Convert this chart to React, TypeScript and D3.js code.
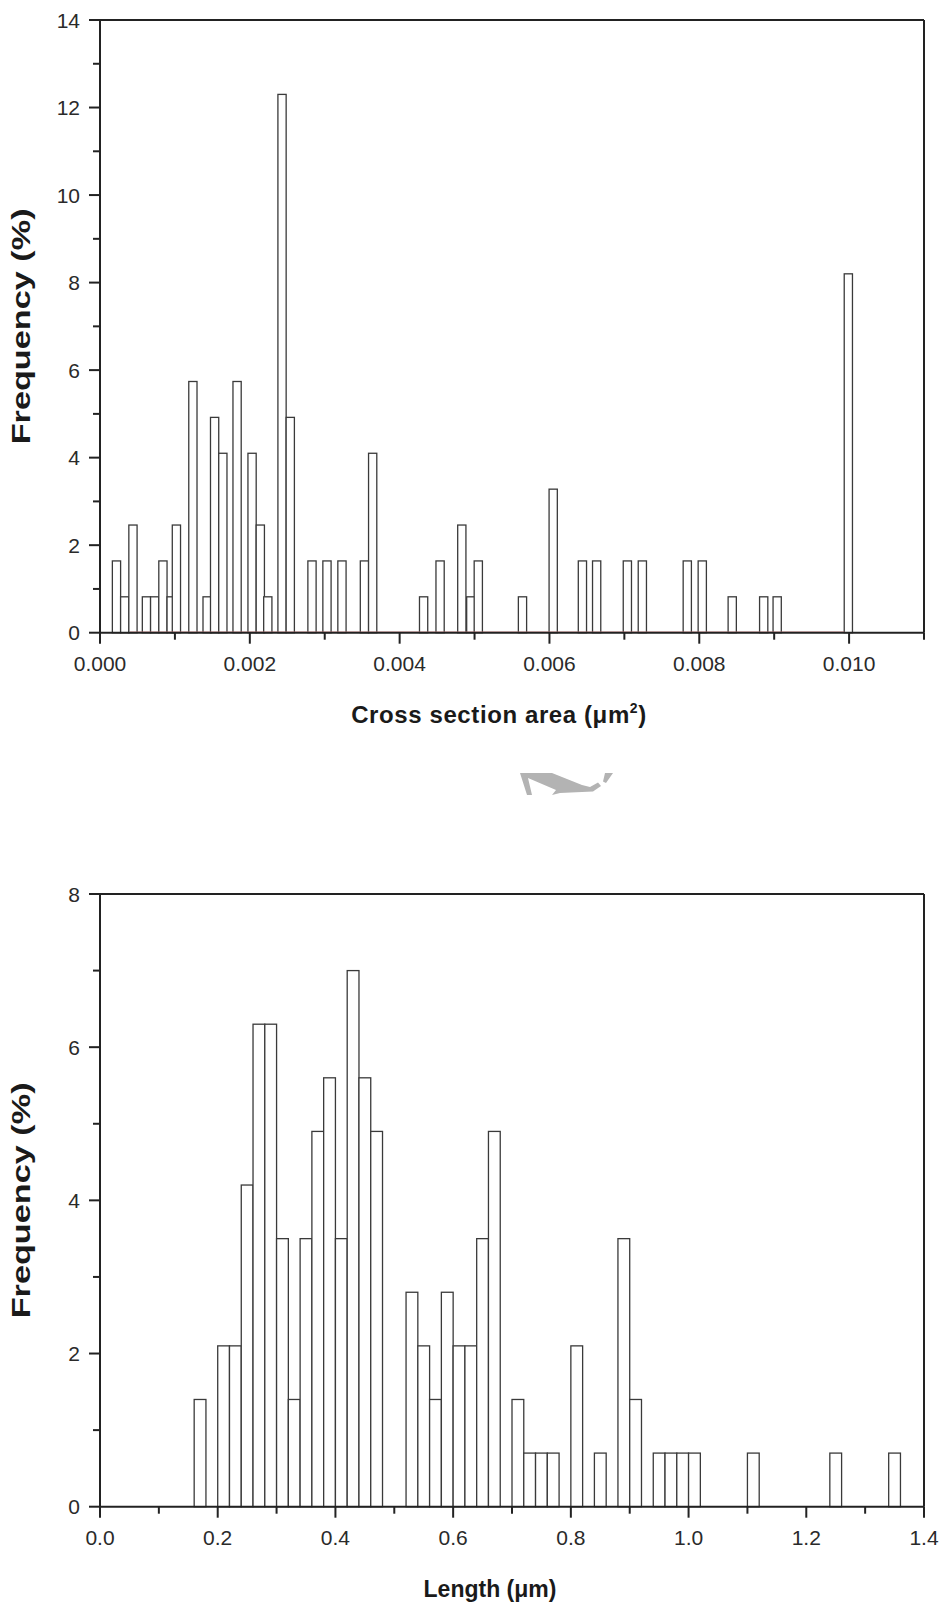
import React from "react";
import * as d3 from "d3";

// top histogram: cross section area (µm²) bar centres and frequency (%)
const areaCenters = [
  0.00022, 0.00033, 0.00044, 0.00062, 0.00073, 0.00084, 0.00095, 0.00102, 0.00124, 0.00143,
  0.00153, 0.00164, 0.00183, 0.00203, 0.00214, 0.00224, 0.00243, 0.00254, 0.00283, 0.00303,
  0.00323, 0.00353, 0.00364, 0.00432, 0.00454, 0.00483, 0.00495, 0.00505, 0.00564, 0.00605,
  0.00644, 0.00663, 0.00704, 0.00724, 0.00784, 0.00804, 0.00844, 0.00886, 0.00904, 0.00999,
];
const areaFreq = [
  1.64, 0.82, 2.46, 0.82, 0.82, 1.64, 0.82, 2.46, 5.74, 0.82,
  4.92, 4.1, 5.74, 4.1, 2.46, 0.82, 12.3, 4.92, 1.64, 1.64,
  1.64, 1.64, 4.1, 0.82, 1.64, 2.46, 0.82, 1.64, 0.82, 3.28,
  1.64, 1.64, 1.64, 1.64, 1.64, 1.64, 0.82, 0.82, 0.82, 8.2,
];
const areaXTicks = [0, 0.002, 0.004, 0.006, 0.008, 0.01];
const areaXMinor = [0.001, 0.003, 0.005, 0.007, 0.009, 0.011];
const areaYTicks = [0, 2, 4, 6, 8, 10, 12, 14];
const areaYMinor = [1, 3, 5, 7, 9, 11, 13];

// bottom histogram: length (µm), bins 0.02 wide
const lengthCenters = [
  0.17, 0.21, 0.23, 0.25, 0.27, 0.29, 0.31, 0.33, 0.35, 0.37,
  0.39, 0.41, 0.43, 0.45, 0.47, 0.53, 0.55, 0.57, 0.59, 0.61,
  0.63, 0.65, 0.67, 0.71, 0.73, 0.75, 0.77, 0.81, 0.85, 0.89,
  0.91, 0.95, 0.97, 0.99, 1.01, 1.11, 1.25, 1.35,
];
const lengthFreq = [
  1.4, 2.1, 2.1, 4.2, 6.3, 6.3, 3.5, 1.4, 3.5, 4.9,
  5.6, 3.5, 7.0, 5.6, 4.9, 2.8, 2.1, 1.4, 2.8, 2.1,
  2.1, 3.5, 4.9, 1.4, 0.7, 0.7, 0.7, 2.1, 0.7, 3.5,
  1.4, 0.7, 0.7, 0.7, 0.7, 0.7, 0.7, 0.7,
];
const lengthXTicks = [0, 0.2, 0.4, 0.6, 0.8, 1.0, 1.2, 1.4];
const lengthXMinor = [0.1, 0.3, 0.5, 0.7, 0.9, 1.1, 1.3];
const lengthYTicks = [0, 2, 4, 6, 8];
const lengthYMinor = [1, 3, 5, 7];

const FONT = "'Liberation Sans', Arial, sans-serif";

function Histogram(props) {
  const { top, bottom, left, right, xMax, yMax, centers, freqs, barWidth,
    xTicks, xMinor, yTicks, yMinor, xFmt, title, titleX, titleY, titleSize, titleSpacing, redBase } = props;

  const x = d3.scaleLinear().domain([0, xMax]).range([left, right]);
  const y = d3.scaleLinear().domain([0, yMax]).range([bottom, top]);
  const y0 = y(0);

  return (
    <g>
      {/* bars, drawn in order so later ones cover earlier ones */}
      {centers.map((c, i) => (
        <rect key={i}
          x={x(c - barWidth / 2)}
          y={y(freqs[i])}
          width={x(c + barWidth / 2) - x(c - barWidth / 2)}
          height={y0 - y(freqs[i])}
          fill="#fff" stroke="#3a3a3a" strokeWidth={1.3} />
      ))}
      {redBase && (
        <line x1={x(redBase[0])} x2={x(redBase[1])} y1={y0 - 0.5} y2={y0 - 0.5}
          stroke="#c98080" strokeWidth={1.2} />
      )}
      {/* frame */}
      <line x1={left} x2={right} y1={top} y2={top} stroke="#222" strokeWidth={2} />
      <line x1={right} x2={right} y1={top} y2={bottom} stroke="#222" strokeWidth={2} />
      <line x1={left} x2={left} y1={top} y2={bottom} stroke="#222" strokeWidth={2} />
      <line x1={left} x2={right} y1={bottom} y2={bottom} stroke="#222" strokeWidth={2} />
      {/* y ticks */}
      {yTicks.map(t => (
        <g key={"y" + t}>
          <line x1={left - 11} x2={left} y1={y(t)} y2={y(t)} stroke="#222" strokeWidth={2} />
          <text x={left - 20} y={y(t)} textAnchor="end" dominantBaseline="central"
            fontSize={21} fontFamily={FONT} fill="#2a2a2a">{t}</text>
        </g>
      ))}
      {yMinor.map(t => (
        <line key={"ym" + t} x1={left - 7} x2={left} y1={y(t)} y2={y(t)} stroke="#222" strokeWidth={2} />
      ))}
      {/* x ticks */}
      {xTicks.map(t => (
        <g key={"x" + t}>
          <line x1={x(t)} x2={x(t)} y1={bottom} y2={bottom + 11} stroke="#222" strokeWidth={2} />
          <text x={x(t)} y={bottom + 38} textAnchor="middle"
            fontSize={21} fontFamily={FONT} fill="#2a2a2a">{xFmt(t)}</text>
        </g>
      ))}
      {xMinor.map(t => (
        <line key={"xm" + t} x1={x(t)} x2={x(t)} y1={bottom} y2={bottom + 7} stroke="#222" strokeWidth={2} />
      ))}
      {/* axis titles */}
      <text transform={`translate(30,${(top + bottom) / 2}) rotate(-90)`} textAnchor="middle"
        fontSize={25} fontWeight="bold" fontFamily={FONT} fill="#1a1a1a"
        textLength={236} lengthAdjust="spacingAndGlyphs">Frequency (%)</text>
      <text x={titleX} y={titleY} textAnchor="middle" letterSpacing={titleSpacing}
        fontSize={titleSize} fontWeight="bold" fontFamily={FONT} fill="#1a1a1a">{title}</text>
    </g>
  );
}

export default function App() {
  return (
    <svg width={944} height={1602} style={{ position: "absolute", left: 0, top: 0, background: "#fff" }}>
      <rect width={944} height={1602} fill="#fff" />
      <Histogram
        top={20} bottom={632.7} left={100} right={924}
        xMax={0.011} yMax={14}
        centers={areaCenters} freqs={areaFreq} barWidth={0.00011}
        xTicks={areaXTicks} xMinor={areaXMinor} yTicks={areaYTicks} yMinor={areaYMinor}
        xFmt={d3.format(".3f")}
        title={<>Cross section area (μm<tspan dy={-10} fontSize={14}>2</tspan><tspan dy={10}>)</tspan></>}
        titleX={499} titleY={723} titleSize={24} titleSpacing={0.6}
        redBase={[0.0004, 0.00994]}
      />
      {/* grey watermark swoosh between the panels */}
      <path d="M520,773 L552,773 L582,785 L590,787 L598,782.5 L601,786 L593,791.5 L560,793 L552,795 L556,790 L528,778 L532,795 L527,795 Z M605,773 L613,773 L606,783 L603,781.5 Z"
        fill="#b3b3b3" />
      <Histogram
        top={894} bottom={1506.7} left={100} right={924}
        xMax={1.4} yMax={8}
        centers={lengthCenters} freqs={lengthFreq} barWidth={0.02}
        xTicks={lengthXTicks} xMinor={lengthXMinor} yTicks={lengthYTicks} yMinor={lengthYMinor}
        xFmt={d3.format(".1f")}
        title="Length (μm)"
        titleX={490} titleY={1597} titleSize={23} titleSpacing={0}
      />
    </svg>
  );
}
